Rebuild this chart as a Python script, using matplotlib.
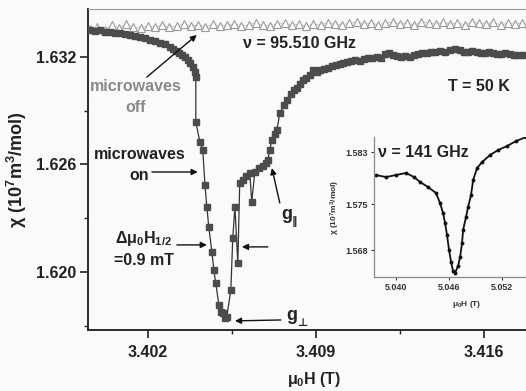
import matplotlib
matplotlib.use('Agg')
import matplotlib.pyplot as plt
from matplotlib.ticker import FixedLocator

plt.rcParams['font.family'] = ['Liberation Sans', 'DejaVu Sans']
plt.rcParams['font.weight'] = 'bold'
plt.rcParams['axes.labelweight'] = 'bold'
plt.rcParams['mathtext.fontset'] = 'dejavusans'
plt.rcParams['mathtext.default'] = 'regular'

# microwaves on: susceptibility vs field at 95.510 GHz, T = 50 K
field_on = [3.39958, 3.39979, 3.40000, 3.40021, 3.40042, 3.40063, 3.40083, 3.40104,
            3.40125, 3.40146, 3.40167, 3.40188, 3.40208, 3.40229, 3.40250, 3.40271,
            3.40292, 3.40304, 3.40317, 3.40329, 3.40342, 3.40354, 3.40367, 3.40375,
            3.40388, 3.40396, 3.40400,
            3.40400, 3.40417, 3.40429, 3.40438, 3.40446, 3.40454, 3.40467, 3.40475,
            3.40483, 3.40496, 3.40504, 3.40513, 3.40521, 3.40529,
            3.40546, 3.40554, 3.40563, 3.40575, 3.40583, 3.40596, 3.40608, 3.40625,
            3.40633, 3.40646, 3.40663, 3.40679, 3.40692, 3.40700, 3.40708, 3.40717,
            3.40729, 3.40738,
            3.40750, 3.40767, 3.40779, 3.40796, 3.40808, 3.40821, 3.40833, 3.40846,
            3.40858, 3.40875, 3.40888, 3.40904, 3.40917, 3.40933, 3.40950, 3.40967,
            3.40983, 3.41000, 3.41013, 3.41029, 3.41046, 3.41063, 3.41083, 3.41100,
            3.41117, 3.41133, 3.41154, 3.41171, 3.41188, 3.41204, 3.41221, 3.41238,
            3.41254, 3.41271, 3.41292, 3.41308, 3.41325, 3.41342, 3.41363, 3.41379,
            3.41396, 3.41417, 3.41438, 3.41458, 3.41479, 3.41500, 3.41517, 3.41533,
            3.41550, 3.41571, 3.41588, 3.41604, 3.41621, 3.41638, 3.41654, 3.41671,
            3.41688, 3.41708, 3.41725, 3.41742, 3.41763]
chi_on = [1.63351, 1.63345, 1.63351, 1.63340, 1.63340, 1.63334, 1.63334, 1.63328,
          1.63323, 1.63317, 1.63312, 1.63306, 1.63295, 1.63289, 1.63278, 1.63273,
          1.63256, 1.63245, 1.63233, 1.63223, 1.63211, 1.63200, 1.63183, 1.63167,
          1.63144, 1.63116, 1.63088,
          1.62837, 1.62726, 1.62681, 1.62486, 1.62363, 1.62251, 1.62112, 1.62011,
          1.61939, 1.61816, 1.61777, 1.61771, 1.61743, 1.61749,
          1.61900, 1.62190, 1.62363, 1.62050, 1.62497, 1.62514, 1.62536, 1.62553,
          1.62391, 1.62558, 1.62581, 1.62592, 1.62609, 1.62625, 1.62681, 1.62737,
          1.62770, 1.62793,
          1.62887, 1.62932, 1.62960, 1.62994, 1.63016, 1.63027, 1.63049, 1.63072,
          1.63083, 1.63100, 1.63127, 1.63116, 1.63127, 1.63133, 1.63139, 1.63150,
          1.63155, 1.63161, 1.63167, 1.63172, 1.63178, 1.63183, 1.63178, 1.63189,
          1.63194, 1.63194, 1.63200, 1.63194, 1.63217, 1.63222, 1.63211, 1.63206,
          1.63200, 1.63206, 1.63200, 1.63211, 1.63217, 1.63222, 1.63222, 1.63228,
          1.63228, 1.63233, 1.63228, 1.63239, 1.63245, 1.63239, 1.63228, 1.63228,
          1.63233, 1.63228, 1.63222, 1.63222, 1.63228, 1.63222, 1.63217, 1.63217,
          1.63222, 1.63217, 1.63211, 1.63211, 1.63211]

# microwaves off
field_off = [3.3996, 3.3999, 3.4002, 3.4005, 3.4008, 3.4011, 3.4014, 3.4017, 3.4020, 3.4023,
             3.4026, 3.4029, 3.4032, 3.4035, 3.4038, 3.4041, 3.4044, 3.4047, 3.4050, 3.4053,
             3.4056, 3.4059, 3.4062, 3.4065, 3.4068, 3.4071, 3.4074, 3.4077, 3.4080, 3.4083,
             3.4086, 3.4089, 3.4092, 3.4095, 3.4098, 3.4101, 3.4104, 3.4107, 3.4110, 3.4113,
             3.4116, 3.4119, 3.4122, 3.4125, 3.4128, 3.4131, 3.4134, 3.4137, 3.4140, 3.4143,
             3.4146, 3.4149, 3.4152, 3.4155, 3.4158, 3.4161, 3.4164, 3.4167, 3.4170, 3.4173,
             3.4176, 3.4179]
chi_off = [1.63356, 1.63367, 1.63351, 1.63379, 1.63362, 1.63384, 1.63367, 1.63362, 1.63373, 1.63367,
           1.63379, 1.63367, 1.63373, 1.63384, 1.63373, 1.63379, 1.63367, 1.63384, 1.63373, 1.63379,
           1.63384, 1.63373, 1.63379, 1.63390, 1.63379, 1.63373, 1.63384, 1.63390, 1.63379, 1.63384,
           1.63373, 1.63384, 1.63379, 1.63390, 1.63384, 1.63379, 1.63390, 1.63395, 1.63384, 1.63390,
           1.63379, 1.63390, 1.63395, 1.63384, 1.63390, 1.63379, 1.63395, 1.63390, 1.63384, 1.63395,
           1.63384, 1.63390, 1.63379, 1.63395, 1.63390, 1.63384, 1.63395, 1.63379, 1.63390, 1.63384,
           1.63390, 1.63384]

# inset: 141 GHz
field_141 = [5.03774, 5.03887, 5.04000, 5.04113, 5.04204, 5.04272, 5.04362, 5.04453,
             5.04498, 5.04532, 5.04555, 5.04577, 5.04600, 5.04623, 5.04645, 5.04668,
             5.04702, 5.04725, 5.04747, 5.04759, 5.04792, 5.04815, 5.04849, 5.04872,
             5.04917, 5.04974, 5.05064, 5.05155, 5.05257, 5.05358, 5.05472]
chi_141 = [1.57948, 1.57917, 1.57948, 1.57979, 1.57917, 1.57841, 1.57764, 1.57672,
           1.57519, 1.57366, 1.57213, 1.57030, 1.56800, 1.56616, 1.56479, 1.56448,
           1.56555, 1.56693, 1.56907, 1.57106, 1.57305, 1.57458, 1.57642, 1.57871,
           1.58055, 1.58147, 1.58254, 1.58331, 1.58392, 1.58468, 1.58530]

xticks_main = [3.402, 3.409, 3.416]
yticks_main = [1.620, 1.626, 1.632]
xticks_inset = [5.040, 5.046, 5.052]
yticks_inset = [1.568, 1.575, 1.583]

bg = '#fafafa'
ink = '#222222'
fig = plt.figure(figsize=(5.26, 3.91), dpi=100, facecolor=bg)
ax = fig.add_axes([0.167, 0.156, 0.859, 0.821], facecolor=bg)

ax.plot(field_off, chi_off, '-', color='#c4c4c4', lw=0.6, marker='^', ms=6,
        mfc='white', mec='#9a9a9a', mew=0.8, zorder=2)
ax.plot(field_on, chi_on, '-', color='#333333', lw=0.9, marker='s', ms=5,
        mfc='#4c4c4c', mec='#4c4c4c', zorder=3)

ax.set_xlim(3.3995, 3.41833)
ax.set_ylim(1.61676, 1.63468)
ax.xaxis.set_major_locator(FixedLocator(xticks_main))
ax.yaxis.set_major_locator(FixedLocator(yticks_main))
ax.xaxis.set_minor_locator(FixedLocator([3.4055, 3.4125]))
ax.yaxis.set_minor_locator(FixedLocator([1.617, 1.623, 1.629]))
ax.set_xticklabels(['%.3f' % v for v in xticks_main])
ax.set_yticklabels(['%.3f' % v for v in yticks_main])
ax.tick_params(which='major', direction='out', length=6, width=1.2, labelsize=11.5,
               colors=ink)
ax.tick_params(axis='x', which='major', pad=5)
ax.tick_params(axis='y', which='major', pad=2)
ax.tick_params(which='minor', direction='out', length=3, width=1, colors=ink)
for s in ['left', 'bottom']:
    ax.spines[s].set_color('#2a2a2a')
    ax.spines[s].set_linewidth(1.4)
ax.spines['top'].set_color('#999999')
ax.spines['top'].set_linewidth(0.8)
ax.spines['right'].set_visible(False)

ax.set_xlabel('μ$_0$H (T)', fontsize=11.5, color=ink, labelpad=7)
ax.set_ylabel('χ (10$^7$m$^3$/mol)', fontsize=13, color=ink, labelpad=5)

txt = dict(fontsize=11.5, fontweight='bold', color=ink)
arrow = dict(arrowstyle='-|>', color='#111111', lw=1.0, mutation_scale=9,
             shrinkA=0, shrinkB=0)

ax.text(3.40596, 1.63278, 'ν = 95.510 GHz', ha='left', va='center', **txt)
ax.text(3.41450, 1.63033, 'T = 50 K', ha='left', va='center', **txt)

ax.text(3.40150, 1.62977, 'microwaves\noff', ha='center', va='center',
        linespacing=1.5, fontsize=11.5, fontweight='bold', color='#8a8a8a')
ax.annotate('', xy=(3.40404, 1.63323), xytext=(3.40196, 1.63088), arrowprops=arrow)

ax.text(3.40165, 1.62597, 'microwaves\non', ha='center', va='center',
        linespacing=1.5, **txt)
ax.annotate('', xy=(3.40408, 1.62558), xytext=(3.40217, 1.62558), arrowprops=arrow)

ax.text(3.40183, 1.62131, 'Δμ$_0$H$_{1/2}$\n=0.9 mT', ha='center', va='center',
        linespacing=1.4, **txt)
ax.annotate('', xy=(3.40446, 1.62151), xytext=(3.40321, 1.62151), arrowprops=arrow)
ax.annotate('', xy=(3.40592, 1.62140), xytext=(3.40700, 1.62140), arrowprops=arrow)

# g-factor labels: letter plus a small subscript symbol drawn from DejaVu
for gx, gy, sub in [(3.40754, 1.62318, '‖'), (3.40775, 1.61755, '⊥')]:
    ax.text(gx, gy, 'g', ha='left', va='center', fontsize=13, fontweight='bold',
            color=ink)
    ax.annotate(sub, xy=(gx, gy), xytext=(8, -5), textcoords='offset points',
                ha='left', va='center', fontsize=8, fontweight='bold',
                family='DejaVu Sans', color=ink)
ax.annotate('', xy=(3.40717, 1.62580), xytext=(3.40750, 1.62385), arrowprops=arrow)
ax.annotate('', xy=(3.40563, 1.61727), xytext=(3.40754, 1.61732), arrowprops=arrow)

# inset
axi = fig.add_axes([0.711, 0.2916, 0.354, 0.358], facecolor='none')
axi.plot(field_141, chi_141, '-', color='#111111', lw=1.3, marker='o', ms=1.8)
axi.set_xlim(5.03751, 5.05857)
axi.set_ylim(1.56387, 1.58530)
axi.xaxis.set_major_locator(FixedLocator(xticks_inset))
axi.yaxis.set_major_locator(FixedLocator(yticks_inset))
axi.set_xticklabels(['%.3f' % v for v in xticks_inset])
axi.set_yticklabels(['%.3f' % v for v in yticks_inset])
axi.tick_params(direction='out', length=2.5, width=0.8, labelsize=6.5, pad=2,
                colors='#333333')
for s in ['left', 'bottom']:
    axi.spines[s].set_color('#888888')
    axi.spines[s].set_linewidth(0.9)
for s in ['top', 'right']:
    axi.spines[s].set_visible(False)
axi.set_xlabel('μ$_0$H (T)', fontsize=6, color='#333333', labelpad=5)
axi.set_ylabel('χ (10$^7$m$^3$/mol)', fontsize=6, color='#333333', labelpad=2)
axi.text(0.02, 0.89, 'ν = 141 GHz', transform=axi.transAxes, ha='left', va='center',
         **txt)

fig.savefig('out.png', dpi=100, facecolor=bg)
